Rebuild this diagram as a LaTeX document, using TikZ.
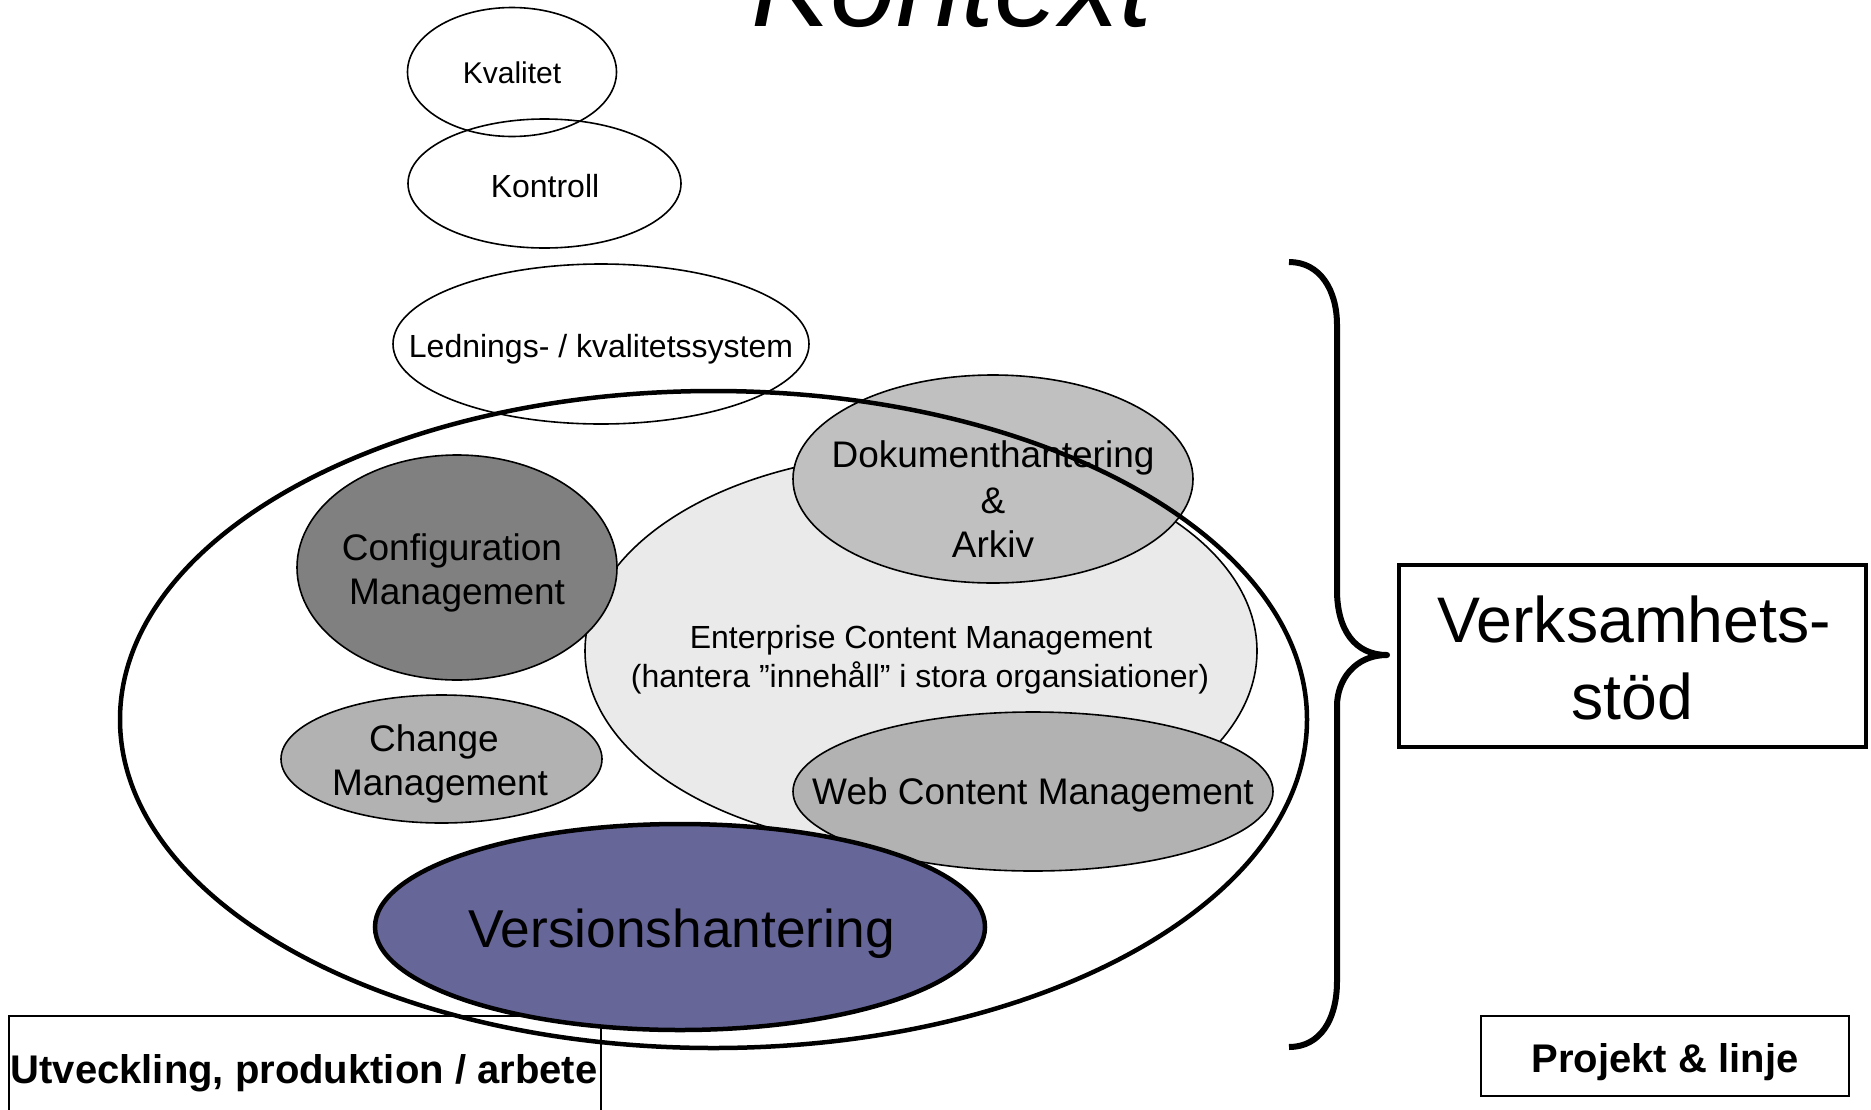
\documentclass[tikz,border=0pt]{standalone}
\usepackage{fontspec}
\setmainfont{Liberation Sans}
\usetikzlibrary{shapes.geometric}
\definecolor{cfgGray}{HTML}{808080}
\definecolor{docGray}{HTML}{C0C0C0}
\definecolor{midGray}{HTML}{B2B2B2}
\definecolor{ecmGray}{HTML}{EAEAEA}
\definecolor{verPurple}{HTML}{666699}

\begin{document}
\begin{tikzpicture}[x=1pt,y=-1pt,
  blob/.style={ellipse, inner sep=0pt, outer sep=0pt, draw=black, line width=1.6pt},
  heavy/.style={line width=4.5pt},
  lbl/.style={anchor=base, inner sep=0pt, outer sep=0pt},
  smalltxt/.style={lbl, font=\fontsize{32}{38}\selectfont},
  ecmtxt/.style={lbl, font=\fontsize{32}{38}\selectfont},
  midtxt/.style={lbl, font=\fontsize{37}{44}\selectfont},
  bigtxt/.style={lbl, font=\fontsize{53.3}{64}\selectfont},
  hugetxt/.style={lbl, font=\fontsize{64.4}{77}\selectfont},
  boldtxt/.style={lbl, font=\fontsize{40}{48}\selectfont\bfseries},
  frame/.style={draw=black, inner sep=0pt, outer sep=0pt}
]
\clip (0,0) rectangle (1871,1109);

% title, partly cut by the page edge
\node[lbl, font=\fontsize{118}{140}\selectfont\itshape] (title) at (952,26) {Kontext};

% bottom-left label box, running off the page
\draw[line width=1.8pt] (9,1140) -- (9,1016) -- (601,1016) -- (601,1140);
\node[boldtxt] (utvT) at (304,1083) {Utveckling, produktion / arbete};

% stacked outline ellipses
\node[blob, minimum width=209pt, minimum height=129pt] (kval) at (512,72) {};
\node[smalltxt, font=\fontsize{30}{36}\selectfont] (kvalT) at (512,83) {Kvalitet};
\node[blob, minimum width=273pt, minimum height=129pt] (kontr) at (544.5,183.5) {};
\node[smalltxt] (kontrT) at (545,197) {Kontroll};
\node[blob, minimum width=416pt, minimum height=160pt] (led) at (601,344) {};
\node[smalltxt] (ledT) at (601,357) {Lednings- / kvalitetssystem};

% enterprise content management
\node[blob, fill=ecmGray, minimum width=672pt, minimum height=396pt] (ecm) at (921,651) {};
\node[ecmtxt] (ecmT1) at (921,648) {Enterprise Content Management};
\node[ecmtxt] (ecmT2) at (920,687) {(hantera ”innehåll” i stora organsiationer)};

% configuration and change management
\node[blob, fill=cfgGray, minimum width=320pt, minimum height=225pt] (cfg) at (457,567.5) {};
\node[midtxt] (cfgT1) at (452,560) {Configuration};
\node[midtxt] (cfgT2) at (457,604) {Management};
\node[blob, fill=midGray, minimum width=321pt, minimum height=128pt] (chg) at (441.5,759) {};
\node[midtxt] (chgT1) at (434,751) {Change};
\node[midtxt] (chgT2) at (440,795) {Management};

% document handling and web content
\node[blob, fill=docGray, minimum width=400pt, minimum height=208pt] (dok) at (993,479) {};
\node[midtxt] (dokT1) at (993,467) {Dokumenthantering};
\node[midtxt] (dokT2) at (993,513) {\&};
\node[midtxt] (dokT3) at (993,557) {Arkiv};
\node[blob, fill=midGray, minimum width=480pt, minimum height=159pt] (web) at (1033,791.5) {};
\node[midtxt] (webT) at (1033,804) {Web Content Management};

% enclosing ellipse
\node[blob, heavy, minimum width=1187pt, minimum height=657pt] (outer) at (713.5,719.5) {};

% version handling
\node[blob, heavy, fill=verPurple, minimum width=610pt, minimum height=206pt] (ver) at (680,927) {};
\node[bigtxt] (verT) at (681.5,947) {Versionshantering};

% curly brace
\coordinate (bTop) at (1289,262);
\coordinate (bTip) at (1387,655);
\coordinate (bBot) at (1289,1047);
\draw[line width=6pt, line join=round]
  (bTop) .. controls (1320,262) and (1337,290) .. (1337,325)
  -- (1337,590) .. controls (1337,630) and (1355,655) .. (bTip)
  .. controls (1355,655) and (1337,680) .. (1337,706)
  -- (1337,981) .. controls (1337,1020) and (1320,1047) .. (bBot);

% right-hand boxes
\node[frame, heavy, minimum width=467pt, minimum height=182pt] (verk) at (1632.5,656) {};
\node[hugetxt] (verkT1) at (1634,642) {Verksamhets-};
\node[hugetxt] (verkT2) at (1632,719) {stöd};
\node[frame, line width=2.5pt, minimum width=368pt, minimum height=80pt] (proj) at (1665,1056) {};
\node[boldtxt] (projT) at (1665,1072) {Projekt \& linje};
\end{tikzpicture}
\end{document}
